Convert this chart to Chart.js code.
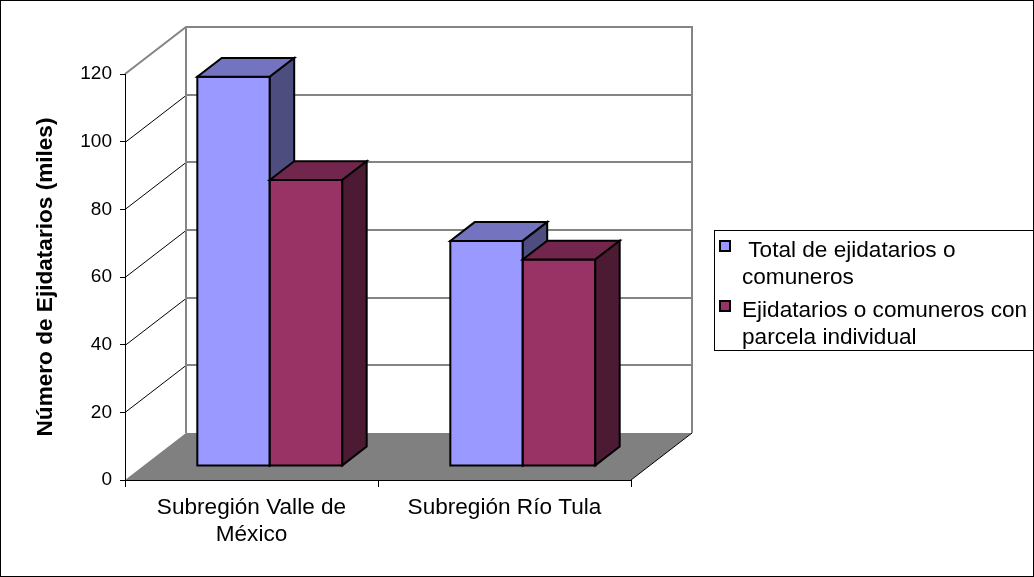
<!DOCTYPE html>
<html>
<head>
<meta charset="utf-8">
<title>Ejidatarios por subregión</title>
<script src="https://cdn.jsdelivr.net/npm/chart.js@4.4.0/dist/chart.umd.min.js"></script>
<style>
  html, body { margin: 0; padding: 0; background: #fff; }
  #wrap { width: 1034px; height: 577px; }
</style>
</head>
<body>
<div id="wrap"><canvas id="myChart" width="1034" height="577"></canvas></div>
<script>
/* globals Chart:false */

// Data
const categories = [["Subregión Valle de", "México"], "Subregión Río Tula"];
const seriesLabels = [
  " Total de ejidatarios o comuneros",
  "Ejidatarios o comuneros con parcela individual",
];
const totalEjidatarios = [115, 66.5];
const conParcela = [84.5, 61];
const yTicks = [0, 20, 40, 60, 80, 100, 120];

// front / top / side shades per series
const faceColors = [
  ["#9999ff", "#7373bf", "#4d4d80"],
  ["#993366", "#73264d", "#4d1a33"],
];

const DX = 61, DY = -47;          // depth of the 3d box
const BAR_FRONT = 0.3, BAR_DEPTH = 0.4;
const FONT = "'Liberation Sans', Arial, sans-serif";
const WALL = "#858585";

function line(ctx, x1, y1, x2, y2) {
  ctx.beginPath();
  ctx.moveTo(x1, y1);
  ctx.lineTo(x2, y2);
  ctx.stroke();
}

// back wall, side wall and floor
const walls = {
  id: "walls",
  beforeDraw(chart) {
    const ctx = chart.ctx;
    const xs = chart.scales.x, ys = chart.scales.y;
    const l = xs.left, r = xs.right;
    const y0 = ys.getPixelForValue(0);
    const yTop = ys.getPixelForValue(yTicks[yTicks.length - 1]);
    ctx.save();

    ctx.fillStyle = "#808080";
    ctx.beginPath();
    ctx.moveTo(l, y0);
    ctx.lineTo(l + DX, y0 + DY);
    ctx.lineTo(r + DX, y0 + DY);
    ctx.lineTo(r, y0);
    ctx.closePath();
    ctx.fill();

    ctx.strokeStyle = "#000";
    ctx.lineWidth = 1;
    line(ctx, r, y0, r + DX, y0 + DY);

    for (const v of yTicks) {
      if (v === 0 || v === yTicks[yTicks.length - 1]) continue;
      const yf = Math.round(ys.getPixelForValue(v));
      ctx.strokeStyle = WALL;
      ctx.lineWidth = 2;
      line(ctx, l + DX, yf + DY, r + DX, yf + DY);
      ctx.strokeStyle = "#000";
      ctx.lineWidth = 1;
      line(ctx, l, yf + 0.5, l + DX, yf + DY + 0.5);
    }

    // wall frame
    ctx.strokeStyle = WALL;
    ctx.lineWidth = 2;
    ctx.beginPath();
    ctx.moveTo(l, yTop);
    ctx.lineTo(l + DX, yTop + DY);
    ctx.lineTo(r + DX, yTop + DY);
    ctx.lineTo(r + DX, y0 + DY);
    ctx.stroke();
    line(ctx, l + DX, yTop + DY, l + DX, y0 + DY);
    ctx.restore();
  },
};

function face(ctx, pts, fill) {
  ctx.beginPath();
  ctx.moveTo(pts[0][0], pts[0][1]);
  for (let i = 1; i < pts.length; i++) ctx.lineTo(pts[i][0], pts[i][1]);
  ctx.closePath();
  ctx.fillStyle = fill;
  ctx.fill();
  ctx.stroke();
}

// extruded bars, built from the bar elements
const bars3d = {
  id: "bars3d",
  afterDatasetsDraw(chart) {
    const ctx = chart.ctx;
    ctx.save();
    ctx.strokeStyle = "#000";
    ctx.lineWidth = 2;
    ctx.lineJoin = "miter";
    const fx = BAR_FRONT * DX, fy = BAR_FRONT * DY;
    const bx = BAR_DEPTH * DX, by = BAR_DEPTH * DY;
    for (let c = 0; c < categories.length; c++) {
      chart.data.datasets.forEach((ds, di) => {
        const el = chart.getDatasetMeta(di).data[c];
        const p = el.getProps(["x", "y", "base", "width"], true);
        const L = p.x - p.width / 2 + fx, R = L + p.width;
        const T = p.y + fy, B = p.base + fy;
        const col = faceColors[di];
        face(ctx, [[L, T], [R, T], [R, B], [L, B]], col[0]);
        face(ctx, [[L, T], [R, T], [R + bx, T + by], [L + bx, T + by]], col[1]);
        face(ctx, [[R, T], [R + bx, T + by], [R + bx, B + by], [R, B]], col[2]);
      });
    }
    ctx.restore();
  },
};

function wrap(ctx, text, maxWidth) {
  const words = text.split(" ");
  const lines = [];
  let cur = words[0];
  for (let i = 1; i < words.length; i++) {
    const test = cur + " " + words[i];
    if (ctx.measureText(test).width > maxWidth) {
      lines.push(cur);
      cur = words[i];
    } else {
      cur = test;
    }
  }
  lines.push(cur);
  return lines;
}

// boxed legend on the right plus outer frame
const sideLegend = {
  id: "sideLegend",
  afterDraw(chart) {
    const ctx = chart.ctx;
    ctx.save();
    ctx.strokeStyle = "#000";
    ctx.lineWidth = 1;
    ctx.strokeRect(714.5, 230.5, 330, 120);

    ctx.font = "22.6px " + FONT;
    ctx.textBaseline = "alphabetic";
    const starts = [257, 317];
    seriesLabels.forEach((label, i) => {
      const top = starts[i];
      ctx.lineWidth = 2;
      ctx.fillStyle = faceColors[i][0];
      ctx.fillRect(720, top - 16, 10, 10);
      ctx.strokeRect(720, top - 16, 10, 10);
      ctx.fillStyle = "#000";
      wrap(ctx, label, 300).forEach((t, k) => {
        ctx.fillText(t, 742, top + k * 27);
      });
    });

    ctx.lineWidth = 1;
    ctx.strokeRect(0.5, 0.5, chart.width - 1, chart.height - 1);
    ctx.restore();
  },
};

const ctx = document.getElementById("myChart");
// eslint-disable-next-line no-unused-vars
const myChart = new Chart(ctx, {
  type: "bar",
  data: {
    labels: categories,
    datasets: [
      {
        label: seriesLabels[0],
        data: totalEjidatarios,
        backgroundColor: "transparent",
        borderWidth: 0,
      },
      {
        label: seriesLabels[1],
        data: conParcela,
        backgroundColor: "transparent",
        borderWidth: 0,
      },
    ],
  },
  options: {
    responsive: false,
    animation: false,
    events: [],
    layout: {
      padding: { left: 28, top: 74, right: 403, bottom: 0 },
    },
    datasets: {
      bar: { categoryPercentage: 0.573, barPercentage: 1 },
    },
    plugins: {
      legend: { display: false },
      tooltip: { enabled: false },
    },
    scales: {
      x: {
        grid: {
          offset: true,
          drawOnChartArea: false,
          drawTicks: true,
          tickLength: 7,
          color: "#000",
        },
        border: { display: true, color: "#000", width: 1 },
        ticks: {
          color: "#000",
          font: { family: FONT, size: 22.6 },
          padding: 7,
          maxRotation: 0,
          autoSkip: false,
        },
        afterFit(scale) {
          scale.height = 97;
        },
      },
      y: {
        min: 0,
        max: 120,
        grid: {
          drawOnChartArea: false,
          drawTicks: true,
          tickLength: 5,
          color: "#000",
        },
        border: { display: true, color: "#000", width: 1 },
        ticks: {
          color: "#000",
          font: { family: FONT, size: 19 },
          padding: 8,
        },
        afterBuildTicks(scale) {
          scale.ticks = yTicks.map((v) => ({ value: v }));
        },
        afterFit(scale) {
          scale.width = 97;
        },
        title: {
          display: true,
          text: "Número de Ejidatarios (miles)",
          color: "#000",
          font: { family: FONT, size: 22.6, weight: "bold" },
        },
      },
    },
  },
  plugins: [walls, bars3d, sideLegend],
});
</script>
</body>
</html>
